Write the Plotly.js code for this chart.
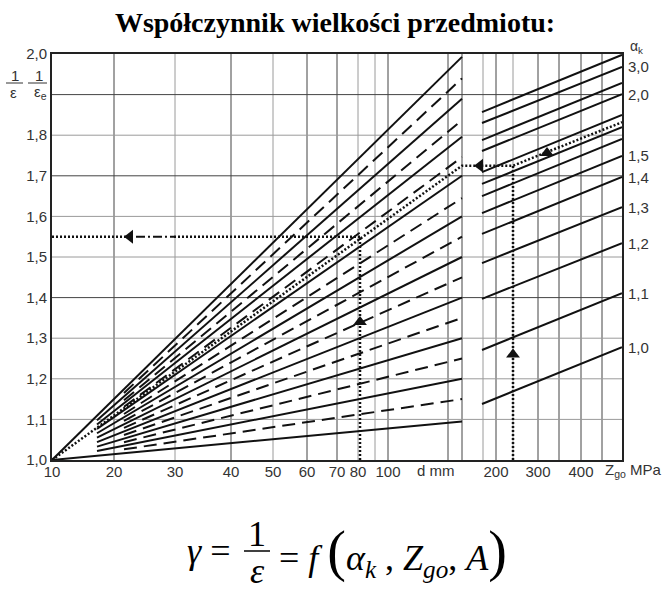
<!DOCTYPE html>
<html><head><meta charset="utf-8">
<script src="https://cdn.plot.ly/plotly-3.0.1.min.js"></script>
<style>html,body{margin:0;padding:0;background:#fff}</style>
</head><body><div id="chart" style="width:670px;height:598px"></div>
<script>
// ---- axis labels / scale readings ----
const yTickVals = [1.0,1.1,1.2,1.3,1.4,1.5,1.6,1.7,1.8,1.9,2.0];
const yTickText = ['1,0','1,1','1,2','1,3','1,4','1,5','1,6','1,7','1,8','','2,0'];
const dTickText = ['10','20','30','40','50','60','70','80','100'];
const dTickPos  = [0,62,123,179,221,255,285,306,336];
const zTickText = ['200','300','400'];
const zTickPos  = [444,486,529];
const gridDarkX  = [62,179,255,285,336,396,410,444,486,507,529,550];
const gridLightX = [123,221,306,323,431,461];
const gridDarkY  = [1.4,1.7,1.9];
const gridLightY = [1.1,1.2,1.3,1.5,1.6,1.8];

// ---- left panel (diameter d): 1/eps reached at end of panel ----
const leftEnd  = [1.993,1.94,1.89,1.837,1.796,1.746,1.70,1.645,1.60,1.55,1.50,1.45,1.40,1.35,1.30,1.25,1.20,1.15,1.095];
const leftDash = ['solid','dash','solid','dash','solid','dash','solid','dash','solid','dash','solid','dash','solid','dash','solid','dash','solid','dash','solid'];

// ---- right panel (Zgo, alpha_k) ----
const rightStart = [1.857,1.830,1.788,1.761,1.709,1.680,1.650,1.608,1.557,1.485,1.397,1.271,1.138];
const rightEnd   = [1.998,1.968,1.929,1.901,1.850,1.820,1.791,1.749,1.697,1.623,1.534,1.411,1.278];
const rightLabel = ['','3,0','','2,0','','','','1,5','1,4','1,3','1,2','1,1','1,0'];

// ---- worked example (dotted path) ----
const exD = 308, exGammaRead = 1.55, exZ = 461, exGammaMid = 1.725, exGammaEnd = 1.832;

// panel extents on the nomogram scale
const X0 = 0, LEFT_END = 410, RIGHT_START = 430, X_END = 570, FAN_SOLID = 45, FAN_DASH = 72;

const BLACK = '#111';
const traces = [];
const DASH = '13px,7px';
leftEnd.forEach((v,i)=>{
  const isDash = leftDash[i]==='dash';
  const s = (i===0 || i===leftEnd.length-1) ? X0 : (isDash ? FAN_DASH : FAN_SOLID);
  const y0 = 1 + (v-1)*s/LEFT_END;
  traces.push({x:[s,LEFT_END], y:[y0,v], mode:'lines', hoverinfo:'skip',
    line:{color:BLACK,width:2,dash: isDash?DASH:'solid'}});
});
rightStart.forEach((v,i)=>{
  traces.push({x:[RIGHT_START,X_END], y:[v,rightEnd[i]], mode:'lines', hoverinfo:'skip',
    line:{color:BLACK,width:2}});
});
const DOT = {color:BLACK,width:2.5,dash:'2px,2px'};
traces.push({x:[X0,LEFT_END,exZ,X_END], y:[1,exGammaMid,exGammaMid,exGammaEnd], mode:'lines', line:DOT, hoverinfo:'skip'});
traces.push({x:[exZ,exZ], y:[1,exGammaMid], mode:'lines', line:DOT, hoverinfo:'skip'});
traces.push({x:[X0,76], y:[exGammaRead,exGammaRead], mode:'lines', line:DOT, hoverinfo:'skip'});
traces.push({x:[84,122], y:[exGammaRead,exGammaRead], mode:'lines', line:{color:BLACK,width:2,dash:'9px,3px,2px,3px'}, hoverinfo:'skip'});
traces.push({x:[122,exD], y:[exGammaRead,exGammaRead], mode:'lines', line:DOT, hoverinfo:'skip'});
traces.push({x:[exD,exD], y:[1,exGammaRead], mode:'lines', line:DOT, hoverinfo:'skip'});
// arrows
traces.push({x:[78,428], y:[exGammaRead,exGammaMid], mode:'markers', hoverinfo:'skip',
  marker:{symbol:'triangle-left',size:12,color:BLACK}});
traces.push({x:[exD,exZ,495], y:[1.34,1.26,1.756], mode:'markers', hoverinfo:'skip',
  marker:{symbol:'triangle-up',size:12,color:BLACK}});

// pixel helpers for decorations outside the plot
const L=52,R=622,T=54,B=460;
const px=x=>(x-L)/(R-L), py=y=>(B-y)/(B-T);
const FONT='Liberation Sans, Arial, sans-serif';
const SERIF='Liberation Serif, Times New Roman, serif';
const shapes=[];
gridLightX.forEach(x=>shapes.push({type:'line',xref:'x',yref:'paper',x0:x,x1:x,y0:0,y1:1,layer:'below',line:{color:'#9a9a9a',width:1}}));
gridDarkX.forEach(x=>shapes.push({type:'line',xref:'x',yref:'paper',x0:x,x1:x,y0:0,y1:1,layer:'below',line:{color:'#444',width:1}}));
gridLightY.forEach(y=>shapes.push({type:'line',xref:'paper',yref:'y',x0:0,x1:1,y0:y,y1:y,layer:'below',line:{color:'#9a9a9a',width:1}}));
gridDarkY.forEach(y=>shapes.push({type:'line',xref:'paper',yref:'y',x0:0,x1:1,y0:y,y1:y,layer:'below',line:{color:'#444',width:1}}));
// fraction bars
[[6,23,83],[28,47,83]].forEach(b=>shapes.push({type:'line',xref:'paper',yref:'paper',x0:px(b[0]),x1:px(b[1]),y0:py(b[2]),y1:py(b[2]),line:{color:'#333',width:1}}));
shapes.push({type:'line',xref:'paper',yref:'paper',x0:px(244),x1:px(270),y0:py(551),y1:py(551),line:{color:'#000',width:1.5}});

const ann=[];
const A=(x,y,text,opt={})=>ann.push(Object.assign({xref:'paper',yref:'paper',x:px(x),y:py(y),text:text,showarrow:false,
  xanchor:'center',yanchor:'middle',font:{family:FONT,size:15,color:'#333'}},opt));
A(15,75,'1'); A(13,92,'ε');
A(39,75,'1'); A(40,92,'ε<sub>e</sub>');
A(436,470,'d mm');
A(603,470,'Z<sub>go</sub> MPa',{xanchor:'left'});
A(636,47,'α<sub>k</sub>',{font:{family:FONT,size:14,color:'#333'}});
rightLabel.forEach((t,i)=>{ if(t) ann.push({xref:'paper',yref:'y',x:px(626),y:rightEnd[i],text:t,showarrow:false,
  xanchor:'left',yanchor:'middle',font:{family:FONT,size:15,color:'#333'}}); });
// formula
const FS=36;
A(185,551,'<i>γ</i> =',{xanchor:'left',font:{family:SERIF,size:FS,color:'#000'}});
A(257,534,'1',{font:{family:SERIF,size:FS,color:'#000'}});
A(257,571,'<i>ε</i>',{font:{family:SERIF,size:FS,color:'#000'}});
A(277,551,'= <i>f</i> <span style="font-size:56px">(</span><i>α</i><sub><i>k</i></sub> , <i>Z</i><sub><i>go</i></sub>, <i>A</i><span style="font-size:56px">)</span>',
  {xanchor:'left',font:{family:SERIF,size:FS,color:'#000'}});

const layout={
  width:670,height:598,margin:{l:L,r:670-R,t:T,b:598-B},
  paper_bgcolor:'#fff',plot_bgcolor:'#fff',showlegend:false,
  title:{text:'<b>Współczynnik wielkości przedmiotu:</b>',xref:'container',yref:'container',x:0.5,y:1-22/598,
    xanchor:'center',yanchor:'middle',font:{family:SERIF,size:28,color:'#000'}},
  xaxis:{range:[X0,X_END],showgrid:false,zeroline:false,tickmode:'array',
    tickvals:dTickPos.concat(zTickPos),ticktext:dTickText.concat(zTickText),
    ticks:'',ticklabelstandoff:-3,showline:true,mirror:true,linecolor:'#222',linewidth:2,
    tickfont:{family:FONT,size:15,color:'#333'},fixedrange:true},
  yaxis:{range:[1,2],showgrid:false,zeroline:false,tickmode:'array',tickvals:yTickVals,ticktext:yTickText,
    ticks:'',showline:true,mirror:true,linecolor:'#222',linewidth:2,
    tickfont:{family:FONT,size:15,color:'#333'},fixedrange:true},
  shapes:shapes,annotations:ann
};
Plotly.newPlot('chart',traces,layout,{staticPlot:true,displayModeBar:false});
</script></body></html>
